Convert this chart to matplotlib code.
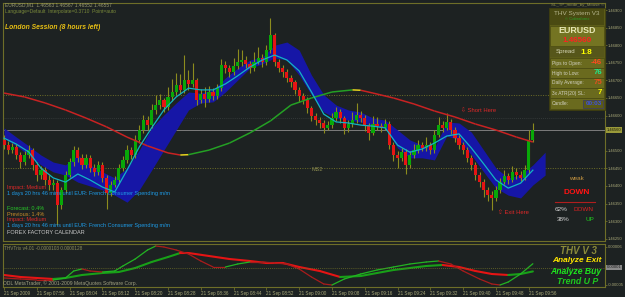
import matplotlib.pyplot as plt
import numpy as np
from matplotlib.patches import Rectangle
from matplotlib.transforms import blended_transform_factory

plt.rcParams['font.family'] = ['Liberation Sans', 'DejaVu Sans']

# EURUSD M1 candles, 21 Sep 2009 07:48 - 09:57
opens = [
    1.46531, 1.46516, 1.46502, 1.46511, 1.46488, 1.46468, 1.46488, 1.46502, 1.46460, 1.46431,
    1.46445, 1.46417, 1.46403, 1.46408, 1.46346, 1.46389, 1.46431, 1.46468, 1.46502, 1.46480,
    1.46460, 1.46480, 1.46451, 1.46440, 1.46460, 1.46423, 1.46380, 1.46403, 1.46417, 1.46451,
    1.46474, 1.46502, 1.46488, 1.46531, 1.46559, 1.46587, 1.46573, 1.46616, 1.46630, 1.46644,
    1.46624, 1.46653, 1.46667, 1.46687, 1.46673, 1.46701, 1.46690, 1.46701, 1.46644, 1.46661,
    1.46647, 1.46667, 1.46656, 1.46678, 1.46744, 1.46735, 1.46724, 1.46741, 1.46752, 1.46758,
    1.46747, 1.46735, 1.46752, 1.46764, 1.46752, 1.46786, 1.46829, 1.46752, 1.46735, 1.46724,
    1.46707, 1.46695, 1.46673, 1.46656, 1.46644, 1.46621, 1.46599, 1.46587, 1.46579, 1.46565,
    1.46573, 1.46593, 1.46610, 1.46593, 1.46565, 1.46576, 1.46587, 1.46602, 1.46593, 1.46573,
    1.46551, 1.46576, 1.46570, 1.46565, 1.46576, 1.46516, 1.46488, 1.46480, 1.46496, 1.46460,
    1.46488, 1.46502, 1.46516, 1.46508, 1.46516, 1.46502, 1.46545, 1.46573, 1.46565, 1.46582,
    1.46559, 1.46536, 1.46516, 1.46502, 1.46480, 1.46460, 1.46431, 1.46411, 1.46389, 1.46374,
    1.46366, 1.46389, 1.46411, 1.46428, 1.46417, 1.46440, 1.46431, 1.46423, 1.46445, 1.46531]
closes = [
    1.46516, 1.46502, 1.46511, 1.46488, 1.46468, 1.46488, 1.46502, 1.46460, 1.46431, 1.46445,
    1.46417, 1.46403, 1.46408, 1.46346, 1.46389, 1.46431, 1.46468, 1.46502, 1.46480, 1.46460,
    1.46480, 1.46451, 1.46440, 1.46460, 1.46423, 1.46380, 1.46403, 1.46417, 1.46451, 1.46474,
    1.46502, 1.46488, 1.46531, 1.46559, 1.46587, 1.46573, 1.46616, 1.46630, 1.46644, 1.46624,
    1.46653, 1.46667, 1.46687, 1.46673, 1.46701, 1.46690, 1.46701, 1.46644, 1.46661, 1.46647,
    1.46667, 1.46656, 1.46678, 1.46744, 1.46735, 1.46724, 1.46741, 1.46752, 1.46758, 1.46747,
    1.46735, 1.46752, 1.46764, 1.46752, 1.46786, 1.46829, 1.46752, 1.46735, 1.46724, 1.46707,
    1.46695, 1.46673, 1.46656, 1.46644, 1.46621, 1.46599, 1.46587, 1.46579, 1.46565, 1.46573,
    1.46593, 1.46610, 1.46593, 1.46565, 1.46576, 1.46587, 1.46602, 1.46593, 1.46573, 1.46551,
    1.46576, 1.46570, 1.46565, 1.46576, 1.46516, 1.46488, 1.46480, 1.46496, 1.46460, 1.46488,
    1.46502, 1.46516, 1.46508, 1.46516, 1.46502, 1.46545, 1.46573, 1.46565, 1.46582, 1.46559,
    1.46536, 1.46516, 1.46502, 1.46480, 1.46460, 1.46431, 1.46411, 1.46389, 1.46374, 1.46366,
    1.46389, 1.46411, 1.46428, 1.46417, 1.46440, 1.46431, 1.46423, 1.46445, 1.46531, 1.46560]
highs = [
    1.46545, 1.46528, 1.46522, 1.46518, 1.46496, 1.46500, 1.46516, 1.46508, 1.46468, 1.46458,
    1.46454, 1.46430, 1.46420, 1.46416, 1.46398, 1.46442, 1.46480, 1.46514, 1.46510, 1.46490,
    1.46492, 1.46488, 1.46462, 1.46472, 1.46469, 1.46430, 1.46415, 1.46429, 1.46463, 1.46486,
    1.46516, 1.46512, 1.46544, 1.46574, 1.46603, 1.46598, 1.46632, 1.46658, 1.46662, 1.46650,
    1.46680, 1.46705, 1.46720, 1.46718, 1.46772, 1.46730, 1.46750, 1.46708, 1.46675, 1.46680,
    1.46685, 1.46678, 1.46690, 1.46760, 1.46756, 1.46743, 1.46765, 1.46790, 1.46786, 1.46768,
    1.46755, 1.46780, 1.46795, 1.46775, 1.46800, 1.46877, 1.46835, 1.46760, 1.46744, 1.46732,
    1.46716, 1.46702, 1.46680, 1.46665, 1.46652, 1.46628, 1.46608, 1.46596, 1.46588, 1.46586,
    1.46606, 1.46624, 1.46620, 1.46600, 1.46588, 1.46610, 1.46635, 1.46614, 1.46602, 1.46580,
    1.46600, 1.46595, 1.46580, 1.46590, 1.46584, 1.46525, 1.46498, 1.46508, 1.46504, 1.46500,
    1.46518, 1.46530, 1.46526, 1.46540, 1.46524, 1.46560, 1.46595, 1.46584, 1.46608, 1.46590,
    1.46568, 1.46544, 1.46526, 1.46510, 1.46488, 1.46469, 1.46440, 1.46420, 1.46398, 1.46385,
    1.46400, 1.46424, 1.46445, 1.46438, 1.46456, 1.46452, 1.46442, 1.46460, 1.46560, 1.46579]
lows = [
    1.46505, 1.46490, 1.46494, 1.46476, 1.46452, 1.46460, 1.46479, 1.46446, 1.46415, 1.46420,
    1.46402, 1.46388, 1.46390, 1.46289, 1.46335, 1.46380, 1.46425, 1.46458, 1.46469, 1.46448,
    1.46451, 1.46439, 1.46428, 1.46432, 1.46410, 1.46335, 1.46371, 1.46396, 1.46410, 1.46442,
    1.46465, 1.46476, 1.46479, 1.46522, 1.46550, 1.46560, 1.46565, 1.46604, 1.46620, 1.46610,
    1.46616, 1.46642, 1.46658, 1.46660, 1.46665, 1.46672, 1.46680, 1.46630, 1.46635, 1.46625,
    1.46638, 1.46645, 1.46648, 1.46670, 1.46722, 1.46710, 1.46715, 1.46733, 1.46742, 1.46734,
    1.46720, 1.46728, 1.46746, 1.46738, 1.46745, 1.46778, 1.46740, 1.46723, 1.46710, 1.46695,
    1.46680, 1.46660, 1.46640, 1.46632, 1.46608, 1.46586, 1.46572, 1.46565, 1.46550, 1.46558,
    1.46565, 1.46586, 1.46580, 1.46548, 1.46552, 1.46568, 1.46580, 1.46583, 1.46555, 1.46530,
    1.46545, 1.46558, 1.46552, 1.46558, 1.46504, 1.46470, 1.46450, 1.46472, 1.46435, 1.46450,
    1.46480, 1.46495, 1.46498, 1.46500, 1.46490, 1.46495, 1.46538, 1.46554, 1.46558, 1.46548,
    1.46524, 1.46506, 1.46490, 1.46468, 1.46446, 1.46418, 1.46398, 1.46370, 1.46356, 1.46332,
    1.46358, 1.46380, 1.46405, 1.46405, 1.46410, 1.46420, 1.46413, 1.46416, 1.46438, 1.46525]

# fast moving average (cyan), every 3rd bar
fast_bars = list(range(0, 130, 3))
fast_ma = [
    1.46536, 1.46519, 1.46497, 1.46451, 1.46423, 1.46411, 1.46434, 1.46417, 1.46397, 1.46383,
    1.46445, 1.46511, 1.46565, 1.46616, 1.46653, 1.46678, 1.46673, 1.46673, 1.46690, 1.46713,
    1.46738, 1.46758, 1.46772, 1.46758, 1.46727, 1.46667, 1.46604, 1.46582, 1.46579, 1.46573,
    1.46570, 1.46565, 1.46516, 1.46496, 1.46505, 1.46522, 1.46542, 1.46548, 1.46508, 1.46463,
    1.46417, 1.46394, 1.46408, 1.46445]

# blue channel, shifted forward a few bars
band_bars = list(range(0, 133, 3))
band_upper = [
    1.46565, 1.46539, 1.46514, 1.46488, 1.46468, 1.46460, 1.46488, 1.46460, 1.46440, 1.46423,
    1.46451, 1.46502, 1.46565, 1.46602, 1.46636, 1.46667, 1.46664, 1.46673, 1.46707, 1.46735,
    1.46758, 1.46766, 1.46800, 1.46809, 1.46786, 1.46715, 1.46659, 1.46630, 1.46616, 1.46610,
    1.46593, 1.46587, 1.46559, 1.46531, 1.46516, 1.46508, 1.46582, 1.46579, 1.46553, 1.46502,
    1.46451, 1.46423, 1.46431, 1.46460, 1.46496]
band_lower = [
    1.46535, 1.46514, 1.46488, 1.46460, 1.46440, 1.46431, 1.46411, 1.46400, 1.46389, 1.46374,
    1.46354, 1.46389, 1.46445, 1.46502, 1.46559, 1.46616, 1.46636, 1.46639, 1.46667, 1.46701,
    1.46735, 1.46747, 1.46764, 1.46758, 1.46715, 1.46659, 1.46610, 1.46593, 1.46587, 1.46582,
    1.46570, 1.46565, 1.46508, 1.46480, 1.46480, 1.46474, 1.46542, 1.46531, 1.46488, 1.46440,
    1.46394, 1.46374, 1.46366, 1.46403, 1.46431]

# slow moving average (red falling / green rising)
slow_bars = [0, 5, 10, 15, 20, 25, 30, 35, 40, 43, 45, 50, 55, 60, 65, 70, 75, 80, 85, 87,
             90, 95, 100, 105, 110, 115, 120, 125, 129]
slow_ma = [1.46664, 1.46653, 1.46636, 1.46616, 1.46593, 1.46568, 1.46539, 1.46514, 1.46494,
           1.46488, 1.46489, 1.46502, 1.46522, 1.46551, 1.46585, 1.46630, 1.46650, 1.46667,
           1.46673, 1.46672, 1.46664, 1.46650, 1.46633, 1.46613, 1.46596, 1.46576, 1.46559,
           1.46539, 1.46525]

pivot_levels = [1.46659, 1.46451]
pivot_names = ['', 'MS2']
faint_level = 1.46593

# THVTrix oscillator, in units of 1e-6
trix_fast_bars = [0, 4, 8, 12, 15, 17, 19, 21, 24, 27, 29, 32, 35, 37, 39, 42, 45, 48, 51, 54,
                  57, 60, 63, 66, 69, 72, 75, 78, 80, 83, 87, 91, 95, 99, 103, 106, 109, 112,
                  116, 119, 121, 123, 126, 129]
trix_fast = [-30, -33, -36, -36, -30, -9, -3, -9, -12, -9, 6, 27, 54, 66, 63, 54, 42, 21, 3, 3,
             12, 18, 18, 15, 12, -3, -27, -48, -51, -33, -18, -6, 3, 12, 18, 21, 12, -9, -33,
             -48, -51, -42, -18, 12.8]
trix_slow_bars = [0, 4, 8, 12, 15, 19, 24, 28, 32, 36, 40, 43, 45, 50, 55, 60, 64, 68, 72, 77,
                  82, 87, 91, 95, 99, 103, 107, 111, 115, 119, 123, 126, 129]
trix_slow = [-21, -27, -30, -33, -30, -21, -15, -12, 0, 18, 33, 45, 45, 36, 27, 21, 15, 15, 3,
             -9, -27, -24, -15, -6, 0, 6, 9, 3, -9, -18, -21, -18, -10.3]

price_ticks = [1.4690, 1.4685, 1.4680, 1.4675, 1.4670, 1.4665, 1.4660,
               1.4650, 1.4645, 1.4640, 1.4635, 1.4630, 1.4625]
time_labels = ['21 Sep 2009', '21 Sep 07:56', '21 Sep 08:04', '21 Sep 08:12', '21 Sep 08:20',
               '21 Sep 08:28', '21 Sep 08:36', '21 Sep 08:44', '21 Sep 08:52', '21 Sep 09:00',
               '21 Sep 09:08', '21 Sep 09:16', '21 Sep 09:24', '21 Sep 09:32', '21 Sep 09:40',
               '21 Sep 09:48', '21 Sep 09:56']

W, H = 625, 297
BG = '#1d2222'
OLIVE = '#6e6e28'
LBL = '#a8a878'

fig = plt.figure(figsize=(W / 100, H / 100), dpi=100, facecolor=BG)
ax = fig.add_axes([3 / W, 1 - 241 / H, 602 / W, 238 / H], facecolor=BG)
axi = fig.add_axes([3 / W, 1 - 287 / H, 602 / W, 43 / H], facecolor=BG)


def ftext(x, y, s, **kw):
    kw.setdefault('va', 'center')
    fig.text(x / W, 1 - y / H, s, **kw)


def frect(x, y, w, h, **kw):
    fig.add_artist(Rectangle((x / W, 1 - (y + h) / H), w / W, h / H,
                             transform=fig.transFigure, **kw))


# --- main price window ---
o = np.array(opens)
c = np.array(closes)
bars = np.arange(len(c))
ax.fill_between(band_bars, band_lower, band_upper, color='#1616a6', lw=0, zorder=1)
ax.vlines(bars, lows, highs, color='#8c8c1e', lw=0.8, zorder=2)
body = np.maximum(np.abs(c - o), 0.00002)
cols = np.where(c >= o, '#08a808', '#e61414')
ax.bar(bars, body, bottom=np.minimum(o, c), width=0.78, color=cols, lw=0, zorder=3)

prev = None
for k in range(len(slow_bars) - 1):
    up = slow_ma[k + 1] > slow_ma[k]
    col = '#24a024' if up else '#c82222'
    if prev is not None and up != prev:
        col = '#e6d21e'
    ax.plot(slow_bars[k:k + 2], slow_ma[k:k + 2], color=col, lw=1.1, zorder=4,
            solid_capstyle='butt')
    prev = up

ax.plot(fast_bars, fast_ma, color='#12b4c4', lw=0.9, zorder=5)

for lev, name in zip(pivot_levels, pivot_names):
    ax.axhline(lev, color=OLIVE, lw=0.7, ls=(0, (1, 1.5)), zorder=0.5)
    if name:
        ax.text(76.5, lev - 0.00003, name, color='#8a8a50', fontsize=4, ha='center',
                va='center')
ax.axhline(faint_level, color='#3a4040', lw=0.6, ls=(0, (1, 1.5)), zorder=0.5)
ax.axhline(closes[-1], color='#7c7c7c', lw=0.7, zorder=0.6)

ax.text(111.5, 1.46616, '\u21e9 Short Here', color='#e02828', fontsize=4.2,
        ha='left', va='center')
ax.text(120.5, 1.46326, '\u21e7 Exit Here', color='#e02828', fontsize=4.2,
        ha='left', va='center')

ax.set_xlim(-0.25, 146.6)
ax.set_ylim(1.462437, 1.469199)
ax.set_xticks([])
ax.set_yticks(price_ticks)
ax.set_yticklabels([f'{p:.5f}' for p in price_ticks])
ax.tick_params(axis='y', left=False, labelleft=False, right=True, labelright=True,
               length=1.5, width=0.6, color=OLIVE, labelcolor=LBL, labelsize=3.0, pad=0.8)
for sp in ax.spines.values():
    sp.set_color(OLIVE)
    sp.set_linewidth(0.8)

tr = blended_transform_factory(ax.transAxes, ax.transData)
ax.text(1.003, closes[-1], f'{closes[-1]:.5f}', transform=tr, fontsize=3.0, color='#1a1a08',
        ha='left', va='center', clip_on=False,
        bbox=dict(boxstyle='square,pad=0.2', fc='#9a9a3a', ec='none'))

# --- oscillator window ---
for xs, ys, lw, cdn, cup in [(trix_slow_bars, trix_slow, 1.5, '#e61414', '#18a018'),
                             (trix_fast_bars, trix_fast, 0.9, '#a81c1c', '#22b422')]:
    for k in range(len(xs) - 1):
        col = cup if ys[k + 1] > ys[k] else cdn
        axi.plot(xs[k:k + 2], [ys[k] * 1e-6, ys[k + 1] * 1e-6], color=col, lw=lw,
                 solid_capstyle='round')
axi.axhline(0, color=OLIVE, lw=0.6, ls=(0, (1, 1.5)))
axi.set_xlim(-0.25, 146.6)
axi.set_ylim(-57e-6, 72e-6)
axi.set_xticks(list(range(0, 130, 8)))
axi.set_xticklabels(time_labels, ha='left')
axi.set_yticks([63e-6, -51e-6])
axi.set_yticklabels(['0.00006', '-0.00005'])
axi.tick_params(axis='x', length=2, width=0.6, color=OLIVE, labelcolor=LBL, labelsize=3.3,
                pad=1)
axi.tick_params(axis='y', left=False, labelleft=False, right=True, labelright=True,
                length=1.5, width=0.6, color=OLIVE, labelcolor=LBL, labelsize=3.0, pad=0.8)
for sp in axi.spines.values():
    sp.set_color(OLIVE)
    sp.set_linewidth(0.8)
tri = blended_transform_factory(axi.transAxes, axi.transData)
axi.text(1.003, 2e-6, '0.00001', transform=tri, fontsize=3.0, color='#1a1a1a',
         ha='left', va='center', clip_on=False,
         bbox=dict(boxstyle='square,pad=0.2', fc='#8a8a8a', ec='none'))

# --- text overlays ---
ftext(5, 5, 'EURUSD,M1  1.46563 1.46567 1.46552 1.46557', color='#9a9a70', fontsize=3.5)
ftext(5, 11, 'Language=Default  Interpolate=0.3710  Point=auto', color='#7a8a3a',
      fontsize=3.5)
ftext(5, 27.5, 'London Session (8 hours left)', color='#e6be14', fontsize=4.9,
      fontweight='bold', fontstyle='italic')

ff_lines = [('Impact: Medium', '#dc2828', 187.5),
            ('1 days 20 hrs 46 mins until EUR: French Consumer Spending m/m', '#1e9be6', 193.5),
            ('Forecast: 0.4%', '#28c828', 208),
            ('Previous: 1.4%', '#c88c28', 214),
            ('Impact: Medium', '#dc2828', 220),
            ('1 days 20 hrs 46 mins until EUR: French Consumer Spending m/m', '#1e9be6', 226),
            ('FOREX FACTORY CALENDAR', '#c8c8c8', 232.3)]
for s, col, y in ff_lines:
    ftext(7, y, s, color=col, fontsize=4.0)

# info box
ftext(604, 5, 'SL_TP_mode_by_Mouse \u00a9', color='#8a8a50', fontsize=3.2, ha='right')
frect(549, 8, 56, 102, fc='#5c5c18', ec='#3c3c10', lw=0.6)
frect(550, 9, 54, 16, fc='#4a4a12', ec='none')
ftext(577, 13, 'THV System V3', color='#b4b48c', fontsize=4.6, ha='center')
ftext(577, 19.5, '\u00a9 Cobraforex', color='#28a028', fontsize=3.0, ha='center')
frect(550, 26, 54, 20, fc='#747422', ec='#4a4a12', lw=0.5)
ftext(577, 30.5, 'EURUSD', color='#e6e6b4', fontsize=6.4, ha='center', fontweight='bold')
ftext(577, 40.5, '1.46560', color='#ff2020', fontsize=5.8, ha='center', fontweight='bold')
frect(550, 47, 54, 10, fc='#56561a', ec='none')
ftext(556, 52, 'Spread', color='#d8d8b8', fontsize=4.4)
ftext(580, 52, '1.8', color='#ffff00', fontsize=6, fontweight='bold')
rows = [('Pips to Open:', '-46', '#ff4a1e'), ('High to Low:', '76', '#22e68a'),
        ('Daily Average:', '75', '#e6501e'), ('3x ATR(20) SL:', '7', '#ffff00')]
for k, (lab, val, col) in enumerate(rows):
    y0 = 58 + 10 * k
    frect(550, y0, 54, 10, fc='#6a6a1e', ec='#4a4a12', lw=0.5)
    ftext(552, y0 + 5, lab, color='#d0d0c0', fontsize=3.5)
    ftext(602, y0 + 5, val, color=col, fontsize=5.6, fontweight='bold', ha='right')
frect(550, 98, 54, 11, fc='#6a6a1e', ec='#4a4a12', lw=0.5)
ftext(552, 103.5, 'Candle:', color='#d0d0c0', fontsize=3.5)
frect(583, 99.5, 20, 8, fc='#5a5a18', ec='#3a3a6a', lw=0.5)
ftext(602, 103.5, '00:03', color='#3c50e6', fontsize=4.6, fontweight='bold', ha='right')

# trend strength block
ftext(576, 178, 'weak', color='#c89640', fontsize=4.6, ha='center')
ftext(577, 193, 'DOWN', color='#ff1414', fontsize=6, ha='center', fontweight='bold')
fig.add_artist(plt.Line2D([555 / W, 595 / W], [1 - 202 / H, 1 - 202 / H], color='#b01e1e',
                          lw=0.8, transform=fig.transFigure))
ftext(555, 209.5, '62%', color='#d0d0d0', fontsize=4.6)
ftext(573, 209.5, 'DOWN', color='#e02020', fontsize=4.6)
ftext(557, 219.5, '38%', color='#d0d0d0', fontsize=4.6)
ftext(585, 219.5, 'UP', color='#20d020', fontsize=4.6)

# oscillator overlays
ftext(4, 248, 'THVTrix v4.01 -0.0000103 0.0000128', color='#8c8c5a', fontsize=3.4)
ftext(3, 283, 'ODL MetaTrader, \u00a9 2001-2009 MetaQuotes Software Corp.', color='#a0a080',
      fontsize=3.6)
ftext(578, 251, 'THV V 3', color='#8a8a3a', fontsize=7, ha='center', fontweight='bold',
      fontstyle='italic')
ftext(577, 261, 'Analyze Exit', color='#ffe600', fontsize=6, ha='center', fontweight='bold',
      fontstyle='italic')
ftext(576, 271, 'Analyze Buy', color='#1ee61e', fontsize=6.2, ha='center', fontweight='bold',
      fontstyle='italic')
ftext(578, 282, 'Trend U P', color='#1ec81e', fontsize=6.3, ha='center', fontweight='bold',
      fontstyle='italic')

fig.savefig('out.png', dpi=100, facecolor=BG)
